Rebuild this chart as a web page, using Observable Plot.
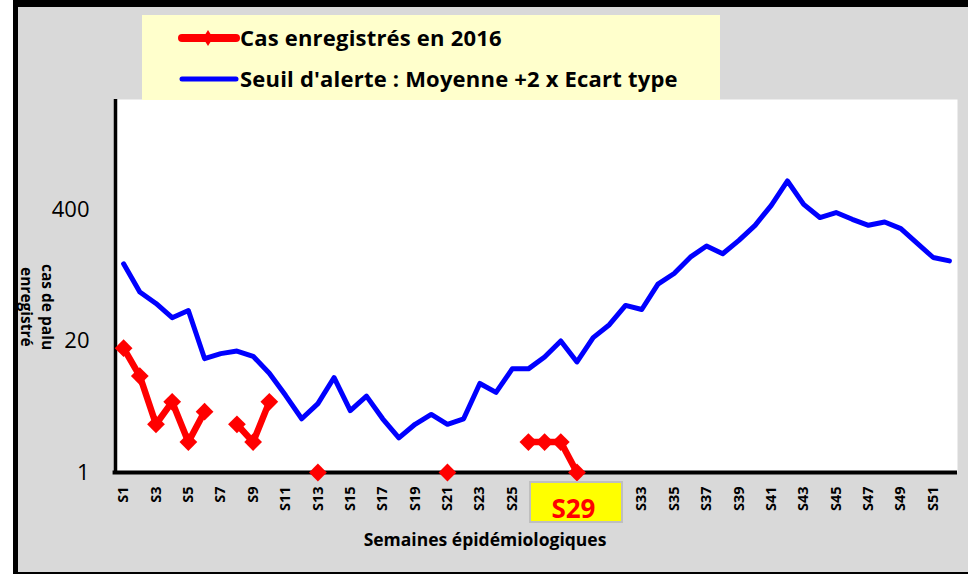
<!DOCTYPE html>
<html>
<head>
<meta charset="utf-8">
<script src="https://cdn.jsdelivr.net/npm/d3@7"></script>
<script src="https://cdn.jsdelivr.net/npm/@observablehq/plot@0.6"></script>
<style>
  body { margin: 0; background: #fff; font-family: "Open Sans", Lato, sans-serif; }
  #page { position: relative; width: 968px; height: 574px; overflow: hidden; background: #fff; }
  #bg { position: absolute; left: 13px; top: 0; width: 955px; height: 574px; background: #d9d9d9;
        border-left: 5px solid #000; border-top: 7px solid #000; border-bottom: 2px solid #000; box-sizing: border-box; }
  #chart { position: absolute; left: 0; top: 0; }
  #legend { position: absolute; left: 142px; top: 15px; width: 578px; height: 85px; background: #ffffcc; }
  .leg-text { position: absolute; left: 98px; font-family: "Open Sans", sans-serif; font-weight: bold; font-size: 22px; color: #000; white-space: nowrap; line-height: 1; letter-spacing: 0.2px; }
  #ylabel { position: absolute; left: 16px; top: 255px; height: 104px; writing-mode: vertical-rl; text-align: center;
            font-family: "Open Sans", sans-serif; font-weight: bold; font-size: 15.5px; line-height: 21px; color: #000; white-space: nowrap; }
  #xlabel { position: absolute; left: 335px; width: 300px; top: 527px; text-align: center; font-family: "Open Sans", sans-serif;
            font-weight: bold; font-size: 17.5px; color: #000; white-space: nowrap; }
  #hl { position: absolute; box-sizing: border-box; background: #ffff00; border: 2px solid #bfbfbf;
        color: #ff0000; font-family: "Open Sans", sans-serif; font-weight: bold; font-size: 26px; text-align: center; }
</style>
</head>
<body>
<div id="page">
  <div id="bg"></div>
  <div id="chart"></div>
  <div id="legend"></div>
  <div id="ylabel">cas de palu<br>enregistré</div>
  <div id="xlabel">Semaines épidémiologiques</div>
</div>
<script>
// ---- Data ----
const seriesNames = ["Cas enregistrés en 2016", "Seuil d'alerte : Moyenne +2 x Ecart type"];
// Cases recorded in 2016, weeks S1..S52 (null = no value)
const cases2016 = [17, 9, 3, 5, 2, 4, null, 3, 2, 5, null, null, 1, null, null, null, null, null, null, null,
                   1, null, null, null, null, 2, 2, 2, 1, null, null, null, null, null, null, null, null, null, null, null,
                   null, null, null, null, null, null, null, null, null, null, null, null];
// Alert threshold, weeks S1..S52
const alertThreshold = [116, 61, 47, 34, 40, 13.4, 15, 15.9, 14.1, 9.6, 5.8, 3.4, 4.8, 8.7, 4.1, 5.7, 3.4, 2.2, 3.0, 3.75,
                        3.0, 3.4, 7.6, 6.2, 10.6, 10.6, 13.9, 20, 12.4, 21.6, 29, 45, 41, 73, 93, 135, 174, 146, 198, 279,
                        440, 766, 450, 333, 373, 320, 279, 301, 259, 186, 134, 124];
const xTickLabels = ["S1","S3","S5","S7","S9","S11","S13","S15","S17","S19","S21","S23","S25","S27","S29","S31",
                     "S33","S35","S37","S39","S41","S43","S45","S47","S49","S51"];
const yTickValues = [1, 20, 400];
const currentWeekLabel = "S29";

const colors = { cases: "#ff0000", threshold: "#0000ff" };

// ---- Tables ----
const weekOf = s => +s.slice(1);
const threshRows = alertThreshold.map((v, i) => ({ week: i + 1, value: v }));
const caseRows = cases2016.map((v, i) => ({ week: i + 1, value: v }));
const caseDots = caseRows.filter(d => d.value != null);
const nWeeks = alertThreshold.length;

const plot = Plot.plot({
  width: 968,
  height: 574,
  marginLeft: 115,
  marginRight: 11,
  marginTop: 99,
  marginBottom: 102,
  style: { background: "transparent", fontFamily: "'Open Sans', sans-serif", color: "#000", overflow: "visible" },
  x: { type: "linear", domain: [0.5, nWeeks + 0.5], axis: null },
  y: { type: "log", domain: [1, 4900], axis: null },
  marks: [
    Plot.frame({ fill: "white", stroke: "none" }),
    Plot.text(yTickValues, { y: d => d, text: d => String(d), frameAnchor: "left", textAnchor: "end", dx: -26,
                             fontSize: 22, fill: "#000", fontFamily: "'Open Sans', sans-serif" }),
    Plot.axisX({ ticks: xTickLabels.map(weekOf), tickFormat: d => "S" + d, tickRotate: -90, tickSize: 0, tickPadding: 14,
                 fontSize: 14.5, fontWeight: "bold", label: null }),
    Plot.ruleY([1], { stroke: "#000", strokeWidth: 4, x1: 0.5 - 0.15, x2: nWeeks + 0.5 }),
    Plot.ruleX([0.5], { stroke: "#000", strokeWidth: 3.5 }),
    Plot.line(threshRows, { x: "week", y: "value", stroke: colors.threshold, strokeWidth: 5, strokeLinejoin: "round", strokeLinecap: "round" }),
    Plot.line(caseRows, { x: "week", y: "value", stroke: colors.cases, strokeWidth: 6.5, strokeLinejoin: "round" }),
    Plot.dot(caseDots, { x: "week", y: "value", symbol: "diamond2", r: 8, fill: colors.cases, stroke: "none" })
  ]
});
document.getElementById("chart").appendChild(plot);
d3.select(plot).selectAll('g[aria-label="x-axis tick label"] text').attr("font-weight", "bold");

// Highlight box for the current week
const xs = plot.scale("x"), ys = plot.scale("y");
const cx = xs.apply(weekOf(currentWeekLabel));
const hl = document.createElement("div");
hl.id = "hl";
hl.textContent = currentWeekLabel;
const bw = 94, bh = 42;
hl.style.left = (cx - bw / 2) + "px";
hl.style.top = (ys.apply(1) + 9) + "px";
hl.style.width = bw + "px";
hl.style.height = bh + "px";
hl.style.lineHeight = (bh + 8) + "px";
hl.style.paddingRight = "6px";
document.getElementById("page").appendChild(hl);

// Legend
const leg = document.getElementById("legend");
leg.innerHTML = `
<svg width="578" height="85" style="position:absolute;left:0;top:0">
  <line x1="40" x2="94" y1="23" y2="23" stroke="${colors.cases}" stroke-width="8" stroke-linecap="round"/>
  <polygon points="66,15 71,23 66,31 61,23" fill="${colors.cases}"/>
  <line x1="40" x2="94" y1="64" y2="64" stroke="${colors.threshold}" stroke-width="5" stroke-linecap="round"/>
</svg>
<div class="leg-text" style="top:11px">${seriesNames[0]}</div>
<div class="leg-text" style="top:52px">${seriesNames[1]}</div>`;
</script>
</body>
</html>
